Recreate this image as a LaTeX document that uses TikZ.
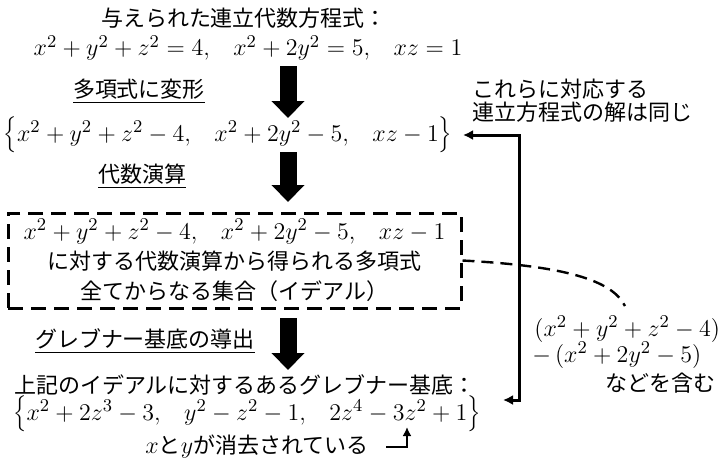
\documentclass[tikz,border=0pt]{standalone}
\usepackage{fontspec}
\setmainfont{Noto Sans CJK JP}
\usetikzlibrary{arrows.meta}
\newcommand\eqgap{\hspace{0.8em}}
\begin{document}
\begin{tikzpicture}[x=0.5pt,y=-0.5pt,
  every node/.style={inner sep=0pt, font=\fontsize{11}{13.5}\selectfont},
  mathnode/.style={font=\fontsize{12.2}{14}\selectfont},
  bigarrow/.style={line width=8.5pt, -{Triangle[length=8.5pt,width=16pt]}},
  linkarrow/.style={line width=1.5pt, {Latex[length=5pt,width=5pt]}-{Latex[length=5pt,width=5pt]}},
  notearrow/.style={line width=1.2pt, -{Latex[length=4.5pt,width=4.5pt]}},
  idealbox/.style={draw, line width=1.5pt, dash pattern=on 7.5pt off 4pt, minimum width=226.5pt, minimum height=47.5pt, align=center, font=\fontsize{11}{15}\selectfont},
  curvedash/.style={line width=1.2pt, dash pattern=on 6pt off 3.5pt}
]
\useasboundingbox (0,0) rectangle (724,468);

\node (title) at (244,18) {与えられた連立代数方程式：};
\node[mathnode] (eq) at (248,48) {$x^2+y^2+z^2=4,\eqgap x^2+2y^2=5,\eqgap xz=1$};
\node (lab1) at (139,91) {\underline{多項式に変形}};
\node[mathnode] (set1) at (228,135) {$\Bigl\{x^2+y^2+z^2-4,\eqgap x^2+2y^2-5,\eqgap xz-1\Bigr\}$};
\node (lab2) at (142,176) {\underline{代数演算}};
\node[idealbox] (ideal) at (234.5,260.5) {{\fontsize{12.2}{15}\selectfont$x^2+y^2+z^2-4,\eqgap x^2+2y^2-5,\eqgap xz-1$}\\に対する代数演算から得られる多項式\\全てからなる集合（イデアル）};
\node (lab3) at (145,341) {\underline{グレブナー基底の導出}};
\node (gbt) at (245,385) {上記のイデアルに対するあるグレブナー基底：};
\node[mathnode] (gbs) at (247,414) {$\Bigl\{x^2+2z^3-3,\eqgap y^2-z^2-1,\eqgap 2z^4-3z^2+1\Bigr\}$};
\node (note) at (257,447) {{\fontsize{12.2}{14}\selectfont$x$}と{\fontsize{12.2}{14}\selectfont$y$}が消去されている};

\node[anchor=west, align=left, font=\fontsize{11}{11.5}\selectfont] (same) at (472,101) {これらに対応する\\連立方程式の解は同じ};

\node[anchor=west, mathnode] (p1) at (534,329) {$(x^2+y^2+z^2-4)$};
\node[anchor=west, mathnode] (p2) at (532,355) {$-\,(x^2+2y^2-5)$};
\node[anchor=east] (p3) at (716,383) {などを含む};

% big arrows
\coordinate (a1s) at (288,66);  \coordinate (a1e) at (288,118);
\coordinate (a2s) at (288,152); \coordinate (a2e) at (288,202);
\coordinate (a3s) at (288,318); \coordinate (a3e) at (288,370);
\draw[bigarrow] (a1s) -- (a1e);
\draw[bigarrow] (a2s) -- (a2e);
\draw[bigarrow] (a3s) -- (a3e);

% link between set and basis
\coordinate (l1) at (463,135);
\coordinate (l2) at (503,400);
\draw[linkarrow] (l1) -- (519,135) -- (519,400) -- (l2);

% note arrow
\coordinate (n1) at (386,447);
\coordinate (n2) at (407,427);
\draw[notearrow] (n1) -| (n2);

% dashed curve
\coordinate (c2) at (625,306);
\draw[curvedash] (ideal.east) .. controls (565,266) and (612,280) .. (c2);
\end{tikzpicture}
\end{document}
